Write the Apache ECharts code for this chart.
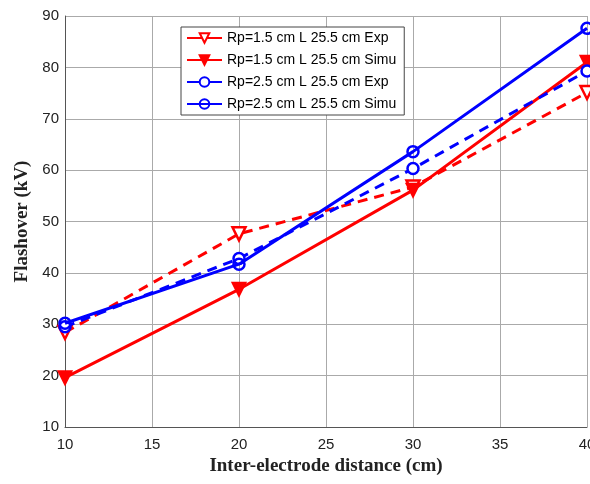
<!DOCTYPE html>
<html>
<head>
<meta charset="utf-8">
<script src="https://cdn.jsdelivr.net/npm/echarts@6/dist/echarts.min.js"></script>
<style>
html, body { margin: 0; padding: 0; background: #fff; }
#myChart { width: 590px; height: 484px; }
</style>
</head>
<body>
<div id="myChart"></div>
<script>
// values
var distances = [10, 20, 30, 40];
var rp15Exp = [28.4, 47.6, 56.7, 75.1];
var rp15Simu = [19.6, 36.8, 56.1, 81.0];
var rp25Exp = [29.5, 42.8, 60.3, 79.3];
var rp25Simu = [30.2, 41.7, 63.6, 87.6];
var legendNames = ['Rp=1.5 cm L 25.5 cm Exp', 'Rp=1.5 cm L 25.5 cm Simu',
  'Rp=2.5 cm L 25.5 cm Exp', 'Rp=2.5 cm L 25.5 cm Simu'];

function pairs(vals) {
  var out = [];
  for (var i = 0; i < distances.length; i++) {
    out.push([distances[i], vals[i]]);
  }
  return out;
}

var RED = '#ff0000';
var BLUE = '#0000ff';

var myChart = echarts.init(document.getElementById('myChart'));
var option = {
  animation: false,
  backgroundColor: '#fff',
  grid: { left: 65, top: 16, right: 3, bottom: 57, outerBoundsMode: 'none', containLabel: false },
  legend: {
    data: legendNames,
    orient: 'vertical',
    left: 181,
    top: 27,
    width: 223,
    padding: [4, 8, 4, 5],
    itemWidth: 35,
    itemHeight: 12,
    itemGap: 8,
    backgroundColor: '#fff',
    borderColor: '#444',
    borderWidth: 1,
    lineStyle: { type: 'solid' },
    textStyle: { fontFamily: 'Liberation Sans, Arial', fontSize: 14, color: '#000' }
  },
  xAxis: {
    type: 'value',
    min: 10, max: 40, interval: 5,
    name: 'Inter-electrode distance (cm)',
    nameLocation: 'middle',
    nameGap: 27,
    nameTextStyle: { fontFamily: 'Liberation Serif, Times New Roman', fontWeight: 'bold', fontSize: 19, color: '#222' },
    axisLine: { show: true, onZero: false, lineStyle: { color: '#555', width: 1 } },
    axisTick: { show: false },
    axisLabel: { fontFamily: 'Liberation Sans, Arial', fontSize: 15, color: '#222', margin: 10 },
    splitLine: { show: true, lineStyle: { color: '#aaa', width: 1 } }
  },
  yAxis: {
    type: 'value',
    min: 10, max: 90, interval: 10,
    name: 'Flashover (kV)',
    nameLocation: 'middle',
    nameGap: 32,
    nameTextStyle: { fontFamily: 'Liberation Serif, Times New Roman', fontWeight: 'bold', fontSize: 19, color: '#222' },
    axisLine: { show: true, onZero: false, lineStyle: { color: '#555', width: 1 } },
    axisTick: { show: false },
    axisLabel: { fontFamily: 'Liberation Sans, Arial', fontSize: 15, color: '#222', margin: 6 },
    splitLine: { show: true, lineStyle: { color: '#aaa', width: 1 } }
  },
  series: [
    {
      name: legendNames[0],
      type: 'line',
      data: pairs(rp15Exp),
      symbol: 'triangle',
      symbolRotate: 180,
      symbolSize: 13,
      lineStyle: { color: RED, width: 3, type: [10, 7] },
      itemStyle: { color: '#fff', borderColor: RED, borderWidth: 2.5 },
      z: 2
    },
    {
      name: legendNames[1],
      type: 'line',
      data: pairs(rp15Simu),
      symbol: 'triangle',
      symbolRotate: 180,
      symbolSize: 13,
      lineStyle: { color: RED, width: 3 },
      itemStyle: { color: RED, borderColor: RED, borderWidth: 2 },
      z: 3
    },
    {
      name: legendNames[2],
      type: 'line',
      data: pairs(rp25Exp),
      symbol: 'circle',
      symbolSize: 11,
      lineStyle: { color: BLUE, width: 3, type: [10, 7] },
      itemStyle: { color: '#fff', borderColor: BLUE, borderWidth: 2.5 },
      z: 4
    },
    {
      name: legendNames[3],
      type: 'line',
      data: pairs(rp25Simu),
      symbol: 'circle',
      symbolSize: 11,
      lineStyle: { color: BLUE, width: 3 },
      itemStyle: { color: 'rgba(255,255,255,0)', borderColor: BLUE, borderWidth: 2.5 },
      z: 5
    }
  ]
};
myChart.setOption(option, true);
</script>
</body>
</html>
